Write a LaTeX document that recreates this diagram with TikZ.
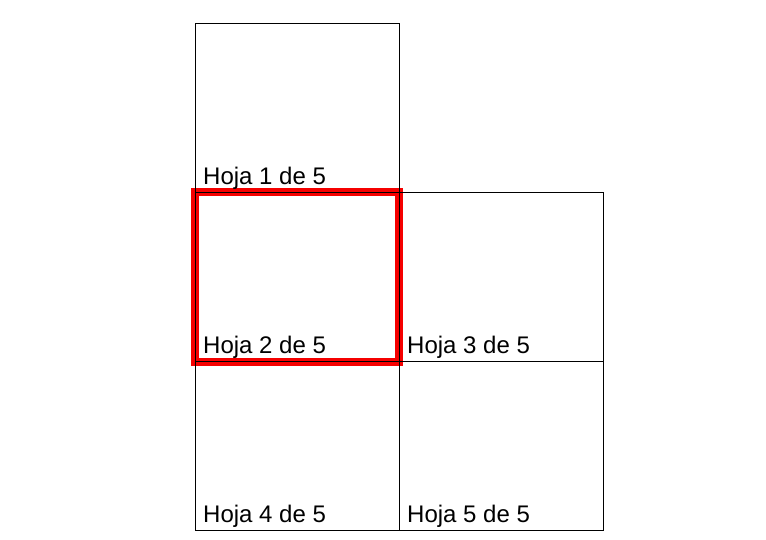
\documentclass[tikz,border=0pt]{standalone}
\usepackage{fontspec}
\setmainfont{Liberation Sans}
\usetikzlibrary{backgrounds}
\begin{document}
\begin{tikzpicture}[x=1pt,y=-1pt,
  sheet/.style={draw=black, line width=0.8pt, minimum width=204pt, minimum height=169pt, inner sep=0pt, outer sep=0pt, anchor=north west},
  lbl/.style={font=\fontsize{24}{28}\selectfont, inner sep=0pt, anchor=base west},
  hilite/.style={draw={rgb,255:red,245;green,0;blue,0}, line width=8pt}]
\useasboundingbox (0,0) rectangle (766,540);
\node[sheet] (s1) at (195,23.5) {};
\node[sheet] (s2) at (195,192.5) {};
\node[sheet] (s3) at (399,192.5) {};
\node[sheet] (s4) at (195,361.5) {};
\node[sheet] (s5) at (399,361.5) {};
\foreach \i in {1,...,5}{
  \node[lbl] (t\i) at ([xshift=8pt,yshift=8pt]s\i.south west) {Hoja \i{} de 5};
}
\begin{pgfonlayer}{background}
\draw[hilite] (s2.north west) rectangle (s2.south east);
\end{pgfonlayer}
\end{tikzpicture}
\end{document}
